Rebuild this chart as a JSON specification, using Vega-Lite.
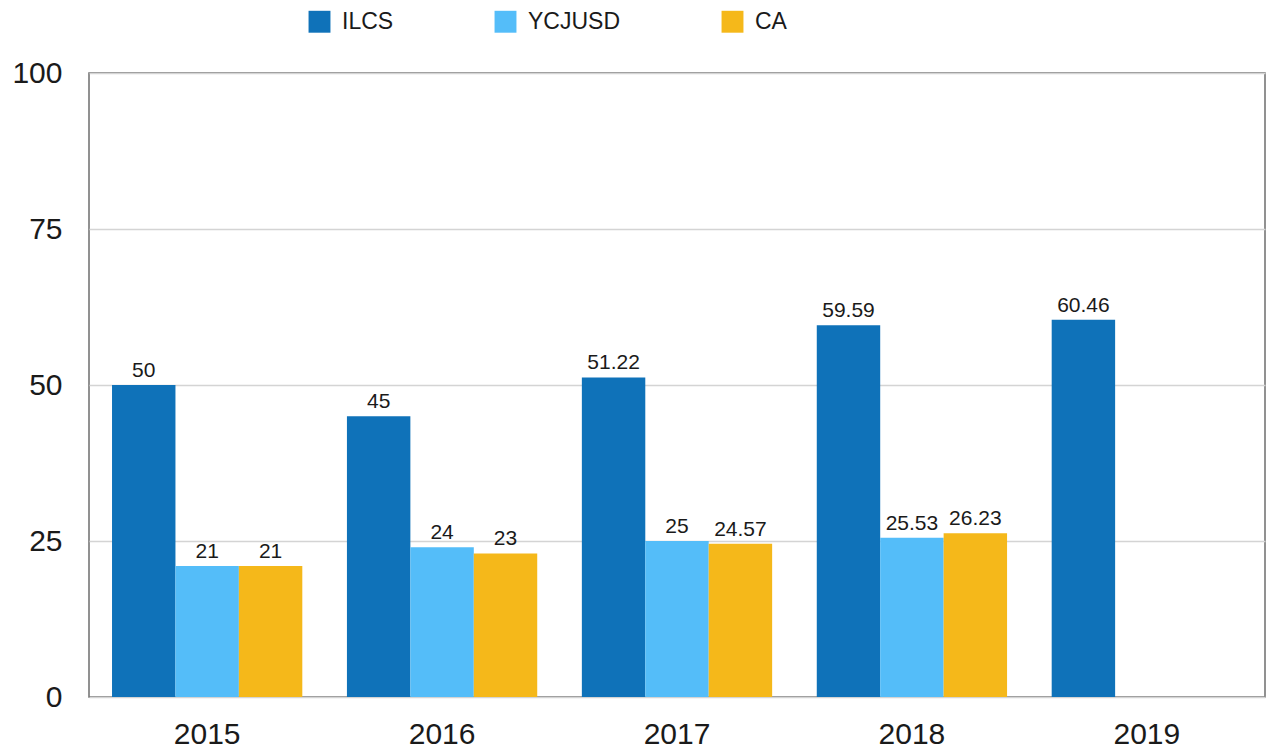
{
  "$schema": "https://vega.github.io/schema/vega-lite/v6.json",
  "width": 1176,
  "height": 624,
  "autosize": {"type": "none"},
  "padding": {"left": 89, "top": 73, "right": 3, "bottom": 55},
  "background": "white",
  "config": {
    "font": "Liberation Sans",
    "view": {"stroke": "#6e6e6e", "strokeWidth": 1.5},
    "axis": {"labelFont": "Liberation Sans", "labelColor": "#1a1a1a"}
  },
  "data": {
    "values": [
      {"year": "2015", "series": "ILCS", "value": 50},
      {"year": "2015", "series": "YCJUSD", "value": 21},
      {"year": "2015", "series": "CA", "value": 21},
      {"year": "2016", "series": "ILCS", "value": 45},
      {"year": "2016", "series": "YCJUSD", "value": 24},
      {"year": "2016", "series": "CA", "value": 23},
      {"year": "2017", "series": "ILCS", "value": 51.22},
      {"year": "2017", "series": "YCJUSD", "value": 25},
      {"year": "2017", "series": "CA", "value": 24.57},
      {"year": "2018", "series": "ILCS", "value": 59.59},
      {"year": "2018", "series": "YCJUSD", "value": 25.53},
      {"year": "2018", "series": "CA", "value": 26.23},
      {"year": "2019", "series": "ILCS", "value": 60.46}
    ]
  },
  "encoding": {
    "x": {
      "field": "year",
      "type": "nominal",
      "scale": {"paddingInner": 0.19, "paddingOuter": 0.098},
      "axis": {
        "title": null,
        "labelAngle": 0,
        "labelFontSize": 30,
        "labelPadding": 22,
        "ticks": false,
        "domain": false
      }
    },
    "xOffset": {
      "field": "series",
      "type": "nominal",
      "scale": {"domain": ["ILCS", "YCJUSD", "CA"], "paddingInner": 0, "paddingOuter": 0}
    },
    "y": {
      "field": "value",
      "type": "quantitative",
      "scale": {"domain": [0, 100], "nice": false},
      "axis": {
        "title": null,
        "values": [0, 25, 50, 75, 100],
        "labelFontSize": 30,
        "labelPadding": 27,
        "ticks": false,
        "domain": false,
        "gridColor": "#d4d4d4",
        "gridWidth": 1.5
      }
    }
  },
  "layer": [
    {
      "mark": {"type": "bar"},
      "encoding": {
        "color": {
          "field": "series",
          "type": "nominal",
          "scale": {
            "domain": ["ILCS", "YCJUSD", "CA"],
            "range": ["#0f72b9", "#54bdf9", "#f5b81a"]
          },
          "legend": {
            "title": null,
            "orient": "none",
            "direction": "horizontal",
            "legendX": 219,
            "legendY": -63,
            "symbolType": "square",
            "symbolSize": 480,
            "symbolStrokeWidth": 0,
            "symbolOpacity": 1,
            "labelFontSize": 23,
            "labelFont": "Liberation Sans",
            "labelColor": "#1a1a1a",
            "labelOffset": 11,
            "columnPadding": 100,
            "padding": 0
          }
        }
      }
    },
    {
      "mark": {"type": "text", "baseline": "alphabetic", "dy": -8, "fontSize": 21, "color": "#1a1a1a"},
      "encoding": {
        "text": {"field": "value", "type": "quantitative"}
      }
    }
  ]
}
